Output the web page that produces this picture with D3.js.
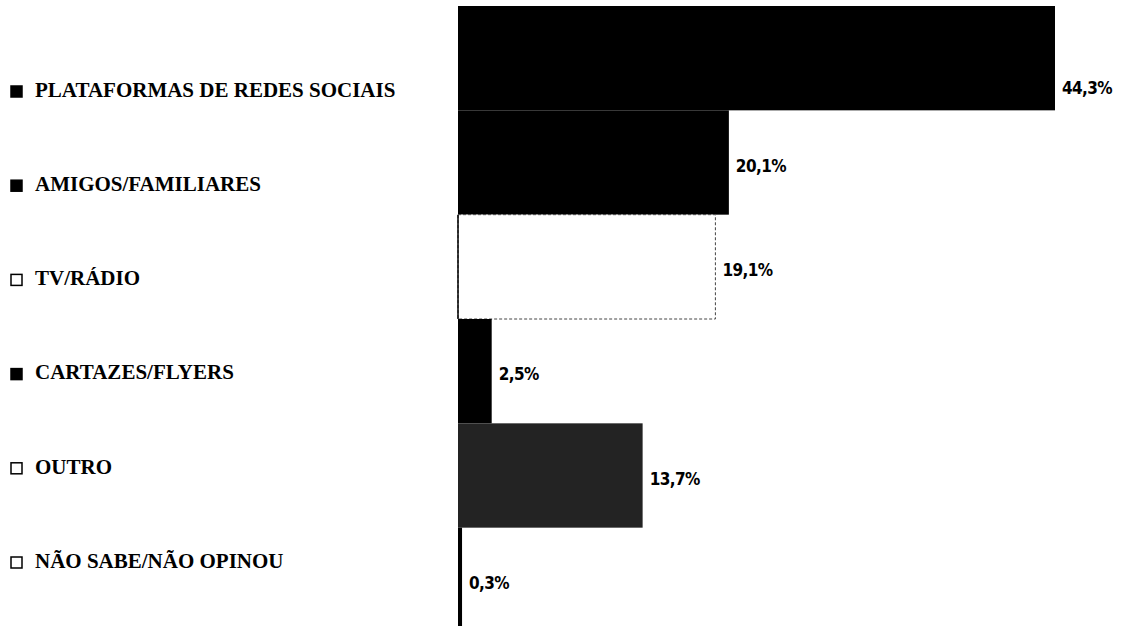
<!DOCTYPE html>
<html>
<head>
<meta charset="utf-8">
<script src="https://cdn.jsdelivr.net/npm/d3@7"></script>
<style>
  html, body { margin: 0; padding: 0; background: #fff; }
  svg { display: block; }
</style>
</head>
<body>
<svg id="chart" width="1135" height="626"></svg>
<script>
const categories = [
  "PLATAFORMAS DE REDES SOCIAIS",
  "AMIGOS/FAMILIARES",
  "TV/RÁDIO",
  "CARTAZES/FLYERS",
  "OUTRO",
  "NÃO SABE/NÃO OPINOU"
];
const values = [44.3, 20.1, 19.1, 2.5, 13.7, 0.3];
const valueLabels = ["44,3%", "20,1%", "19,1%", "2,5%", "13,7%", "0,3%"];
const colors = ["#000000", "#000000", "#ffffff", "#000000", "#232323", "#000000"];
const legendColors = ["#000000", "#000000", "#ffffff", "#000000", "#ffffff", "#ffffff"];

const svg = d3.select("#chart");

const x = d3.scaleLinear().domain([0, 44.3]).range([458, 1055]);
const y = d3.scaleBand().domain(categories).range([6, 632]).padding(0);
const yLegend = d3.scalePoint().domain(categories).range([92, 563]);

// bars
svg.append("g").selectAll("rect")
  .data(categories)
  .join("rect")
  .attr("x", x(0))
  .attr("y", d => y(d))
  .attr("width", (d, i) => x(values[i]) - x(0))
  .attr("height", y.bandwidth())
  .attr("fill", (d, i) => colors[i])
  .attr("stroke", (d, i) => colors[i] === "#ffffff" ? "#444" : "none")
  .attr("stroke-width", 1)
  .attr("stroke-dasharray", (d, i) => colors[i] === "#ffffff" ? "3,2" : null);

// left edge of white bar drawn solid
svg.append("line")
  .attr("x1", x(0)).attr("x2", x(0))
  .attr("y1", y(categories[2])).attr("y2", y(categories[2]) + y.bandwidth())
  .attr("stroke", "#000").attr("stroke-width", 1.5);

// value labels
svg.append("g").selectAll("text")
  .data(categories)
  .join("text")
  .attr("x", (d, i) => x(values[i]) + 7)
  .attr("y", (d, i) => i === 0 ? y(d) + y.bandwidth() - 21 : y(d) + y.bandwidth() / 2 + 4)
  .attr("dominant-baseline", "middle")
  .attr("font-family", "'DejaVu Sans', sans-serif")
  .attr("font-stretch", "condensed")
  .attr("font-weight", "bold")
  .attr("font-size", 17)
  .attr("letter-spacing", -0.6)
  .attr("fill", "#000")
  .text((d, i) => valueLabels[i]);

// legend
const leg = svg.append("g").selectAll("g")
  .data(categories)
  .join("g")
  .attr("transform", d => `translate(0,${yLegend(d)})`);

leg.append("rect")
  .attr("x", 11).attr("y", -6)
  .attr("width", 11).attr("height", 11)
  .attr("fill", (d, i) => legendColors[i])
  .attr("stroke", "#000")
  .attr("stroke-width", 1.5);

leg.append("text")
  .attr("x", 35)
  .attr("y", 0)
  .attr("dominant-baseline", "middle")
  .attr("font-family", "'Liberation Serif', 'DejaVu Serif', serif")
  .attr("font-weight", "bold")
  .attr("font-size", 21)
  .attr("fill", "#000")
  .text(d => d);
</script>
</body>
</html>
